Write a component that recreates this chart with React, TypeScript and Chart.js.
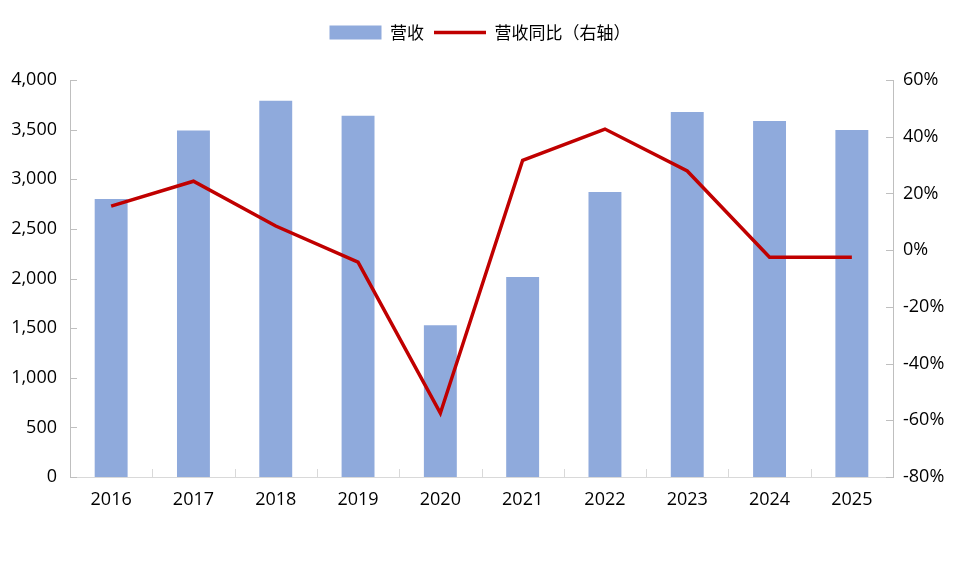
import React, { useEffect, useRef } from "react";
import { Chart, registerables } from "chart.js";

Chart.register(...registerables);

const years = ["2016", "2017", "2018", "2019", "2020", "2021", "2022", "2023", "2024", "2025"];
const revenue = [2800, 3490, 3790, 3640, 1530, 2015, 2871, 3677, 3587, 3496];
const revenueYoY = [15.5, 24.3, 8.5, -4.2, -57.5, 31.7, 42.7, 27.9, -2.5, -2.5];
const seriesNames = ["营收", "营收同比（右轴）"];

const FONT = "'Open Sans', 'Noto Sans CJK SC', sans-serif";

const tickMarks = {
  id: "tickMarks",
  afterInit(chart: any) {
    const legend = chart.legend;
    if (legend) {
      const orig = legend.fit.bind(legend);
      legend.fit = function () {
        orig();
        this.height = 66;
      };
    }
  },
  afterDraw(chart: any) {
    const { ctx, chartArea, scales } = chart;
    ctx.save();
    ctx.lineWidth = 1;
    const y = scales.y;
    ctx.strokeStyle = "#BFBFBF";
    y.ticks.forEach((_t: any, i: number) => {
      const py = Math.round(y.getPixelForTick(i)) + 0.5;
      ctx.beginPath();
      ctx.moveTo(chartArea.left, py);
      ctx.lineTo(chartArea.left + 7, py);
      ctx.stroke();
    });
    const y1 = scales.y1;
    y1.ticks.forEach((_t: any, i: number) => {
      const py = Math.round(y1.getPixelForTick(i)) + 0.5;
      ctx.beginPath();
      ctx.moveTo(chartArea.right, py);
      ctx.lineTo(chartArea.right - 7, py);
      ctx.stroke();
    });
    const x = scales.x;
    ctx.strokeStyle = "#D9D9D9";
    for (let i = 0; i < x.ticks.length - 1; i++) {
      const px = Math.round((x.getPixelForTick(i) + x.getPixelForTick(i + 1)) / 2) + 0.5;
      ctx.beginPath();
      ctx.moveTo(px, chartArea.bottom);
      ctx.lineTo(px, chartArea.bottom - 8);
      ctx.stroke();
    }
    ctx.restore();
  },
};

export default function App() {
  const ref = useRef<HTMLCanvasElement>(null);
  useEffect(() => {
    if (!ref.current) return;
    const chart = new Chart(ref.current, {
      type: "bar",
      data: {
        labels: years,
        datasets: [
          {
            type: "bar",
            label: seriesNames[0],
            data: revenue,
            backgroundColor: "#8FAADC",
            borderWidth: 0,
            categoryPercentage: 0.4,
            barPercentage: 1,
            yAxisID: "y",
            order: 2,
            pointStyle: "rect",
          } as any,
          {
            type: "line",
            label: seriesNames[1],
            data: revenueYoY,
            borderColor: "#C00000",
            backgroundColor: "#C00000",
            borderWidth: 3.5,
            pointRadius: 0,
            tension: 0,
            yAxisID: "y1",
            order: 1,
            pointStyle: "line",
          } as any,
        ],
      },
      options: {
        animation: false,
        responsive: true,
        maintainAspectRatio: false,
        layout: { padding: { top: 14, left: 0, right: 0, bottom: 0 } },
        plugins: {
          tooltip: { enabled: false },
          legend: {
            display: true,
            position: "top",
            labels: {
              usePointStyle: true,
              pointStyleWidth: 52,
              boxHeight: 14,
              padding: 10,
              color: "#000",
              font: { family: "'Noto Sans CJK SC', sans-serif", size: 17 },
              sort: (a: any, b: any) => a.datasetIndex - b.datasetIndex,
            },
          },
        },
        scales: {
          x: {
            offset: true,
            grid: { display: false, drawTicks: false },
            border: { display: true, color: "#D9D9D9", width: 1 },
            ticks: { color: "#000", padding: 12, font: { family: FONT, size: 18 } },
            afterFit: (s: any) => {
              s.height = 99;
            },
          },
          y: {
            position: "left",
            min: 0,
            max: 4000,
            grid: { display: false, drawTicks: false },
            border: { display: true, color: "#BFBFBF", width: 1 },
            ticks: {
              stepSize: 500,
              color: "#000",
              padding: 13,
              font: { family: FONT, size: 18 },
              callback: (v: any) => Number(v).toLocaleString("en-US"),
            },
            afterFit: (s: any) => {
              s.width = 70;
            },
          },
          y1: {
            position: "right",
            min: -80,
            max: 60,
            grid: { display: false, drawTicks: false },
            border: { display: true, color: "#BFBFBF", width: 1 },
            ticks: {
              stepSize: 20,
              color: "#000",
              padding: 10,
              font: { family: FONT, size: 18 },
              callback: (v: any) => `${v}%`,
            },
            afterFit: (s: any) => {
              s.width = 67;
            },
          },
        },
      },
      plugins: [tickMarks],
    });
    return () => chart.destroy();
  }, []);
  return (
    <div style={{ position: "fixed", left: 0, top: 0, width: 960, height: 576, background: "#fff" }}>
      <canvas ref={ref} />
    </div>
  );
}
